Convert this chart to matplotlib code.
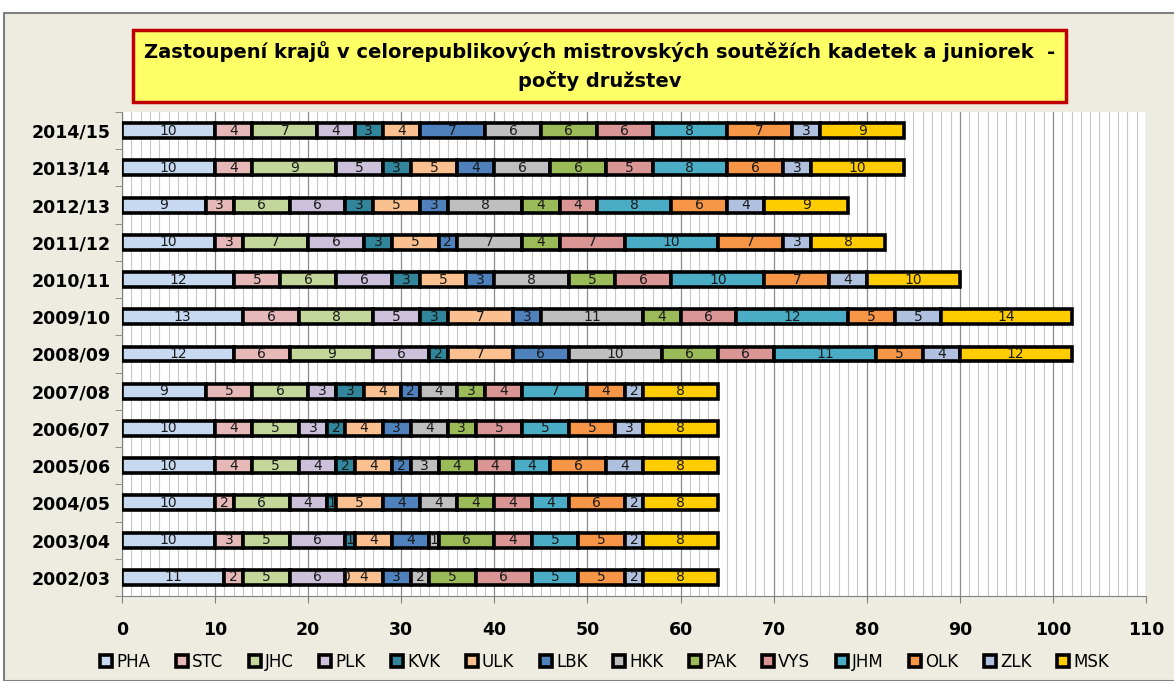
import matplotlib.pyplot as plt
import numpy as np
from matplotlib.patches import Rectangle
from matplotlib.ticker import MultipleLocator

# seasons, bottom to top
seasons = ["2002/03", "2003/04", "2004/05", "2005/06", "2006/07", "2007/08", "2008/09",
           "2009/10", "2010/11", "2011/12", "2012/13", "2013/14", "2014/15"]
regions = ["PHA", "STC", "JHC", "PLK", "KVK", "ULK", "LBK",
           "HKK", "PAK", "VYS", "JHM", "OLK", "ZLK", "MSK"]

pha = [11, 10, 10, 10, 10, 9, 12, 13, 12, 10, 9, 10, 10]
stc = [2, 3, 2, 4, 4, 5, 6, 6, 5, 3, 3, 4, 4]
jhc = [5, 5, 6, 5, 5, 6, 9, 8, 6, 7, 6, 9, 7]
plk = [6, 6, 4, 4, 3, 3, 6, 5, 6, 6, 6, 5, 4]
kvk = [0, 1, 1, 2, 2, 3, 2, 3, 3, 3, 3, 3, 3]
ulk = [4, 4, 5, 4, 4, 4, 7, 7, 5, 5, 5, 5, 4]
lbk = [3, 4, 4, 2, 3, 2, 6, 3, 3, 2, 3, 4, 7]
hkk = [2, 1, 4, 3, 4, 4, 10, 11, 8, 7, 8, 6, 6]
pak = [5, 6, 4, 4, 3, 3, 6, 4, 5, 4, 4, 6, 6]
vys = [6, 4, 4, 4, 5, 4, 6, 6, 6, 7, 4, 5, 6]
jhm = [5, 5, 4, 4, 5, 7, 11, 12, 10, 10, 8, 8, 8]
olk = [5, 5, 6, 6, 5, 4, 5, 5, 7, 7, 6, 6, 7]
zlk = [2, 2, 2, 4, 3, 2, 4, 5, 4, 3, 4, 3, 3]
msk = [8, 8, 8, 8, 8, 8, 12, 14, 10, 8, 9, 10, 9]

series = [pha, stc, jhc, plk, kvk, ulk, lbk, hkk, pak, vys, jhm, olk, zlk, msk]
colors = ["#C6D9F1", "#E6B9B8", "#C4D79B", "#CCC0DA", "#31869B", "#FAC090", "#4F81BD",
          "#BFBFBF", "#9BBB59", "#DA9694", "#4BACC6", "#F79646", "#B0C1DF", "#FFCC00"]

bg = "#EEECE1"
fig = plt.figure(figsize=(11.74, 6.81), dpi=100, facecolor="white")
fig.patches.append(Rectangle((4 / 1174, 0), 1.2, 1 - 13 / 681, transform=fig.transFigure,
                             facecolor=bg, edgecolor="#808080", lw=1.5, zorder=-10))

ax = fig.add_axes([122 / 1174, 1 - 596 / 681, 1024 / 1174, 484 / 681])
ax.set_facecolor("white")

y = np.arange(len(seasons))
left = np.zeros(len(seasons))
for name, vals, col in zip(regions, series, colors):
    bars = ax.barh(y, vals, left=left, height=0.40, color=col, edgecolor="black",
                   linewidth=2.6, label=name, zorder=3)
    ax.bar_label(bars, labels=[str(v) for v in vals], label_type="center",
                 fontsize=10, color="#1a1a1a", zorder=4)
    left += np.array(vals)

ax.set_xlim(0, 110)
ax.set_ylim(-0.5, len(seasons) - 0.5)
ax.xaxis.set_major_locator(MultipleLocator(10))
ax.xaxis.set_minor_locator(MultipleLocator(1))
ax.grid(axis="x", which="minor", color="#C8C8C8", lw=0.8, zorder=0)
ax.grid(axis="x", which="major", color="#8C8C8C", lw=0.9, zorder=0)
ax.tick_params(axis="x", which="major", length=5, pad=13, color="#808080",
               labelsize=12.5)
ax.tick_params(axis="x", which="minor", length=0)
for lab in ax.get_xticklabels():
    lab.set_fontweight("bold")

ax.set_yticks(y, seasons)
ax.set_yticks(np.arange(-0.5, len(seasons)), minor=True)
ax.tick_params(axis="y", which="major", length=0, pad=8, labelsize=12.5)
ax.tick_params(axis="y", which="minor", length=5, color="#808080")
for lab in ax.get_yticklabels():
    lab.set_fontweight("bold")

for s in ["top", "right"]:
    ax.spines[s].set_visible(False)
for s in ["left", "bottom"]:
    ax.spines[s].set_color("#808080")

fig.text(0.5107, 1 - 66 / 681,
         "Zastoupení krajů v celorepublikových mistrovských soutěžích kadetek a juniorek  -\npočty družstev",
         ha="center", va="center", fontsize=14, fontweight="bold", linespacing=1.55,
         bbox=dict(boxstyle="square,pad=0.55", facecolor="#FFFF66", edgecolor="#C00000", lw=2.5))

fig.legend(loc="center", bbox_to_anchor=(0.515, 1 - 662 / 681), ncol=14, frameon=False,
           handlelength=0.7, handleheight=0.7, handletextpad=0.25, columnspacing=1.55,
           fontsize=12)

fig.savefig("out.png", dpi=100, facecolor=fig.get_facecolor())
